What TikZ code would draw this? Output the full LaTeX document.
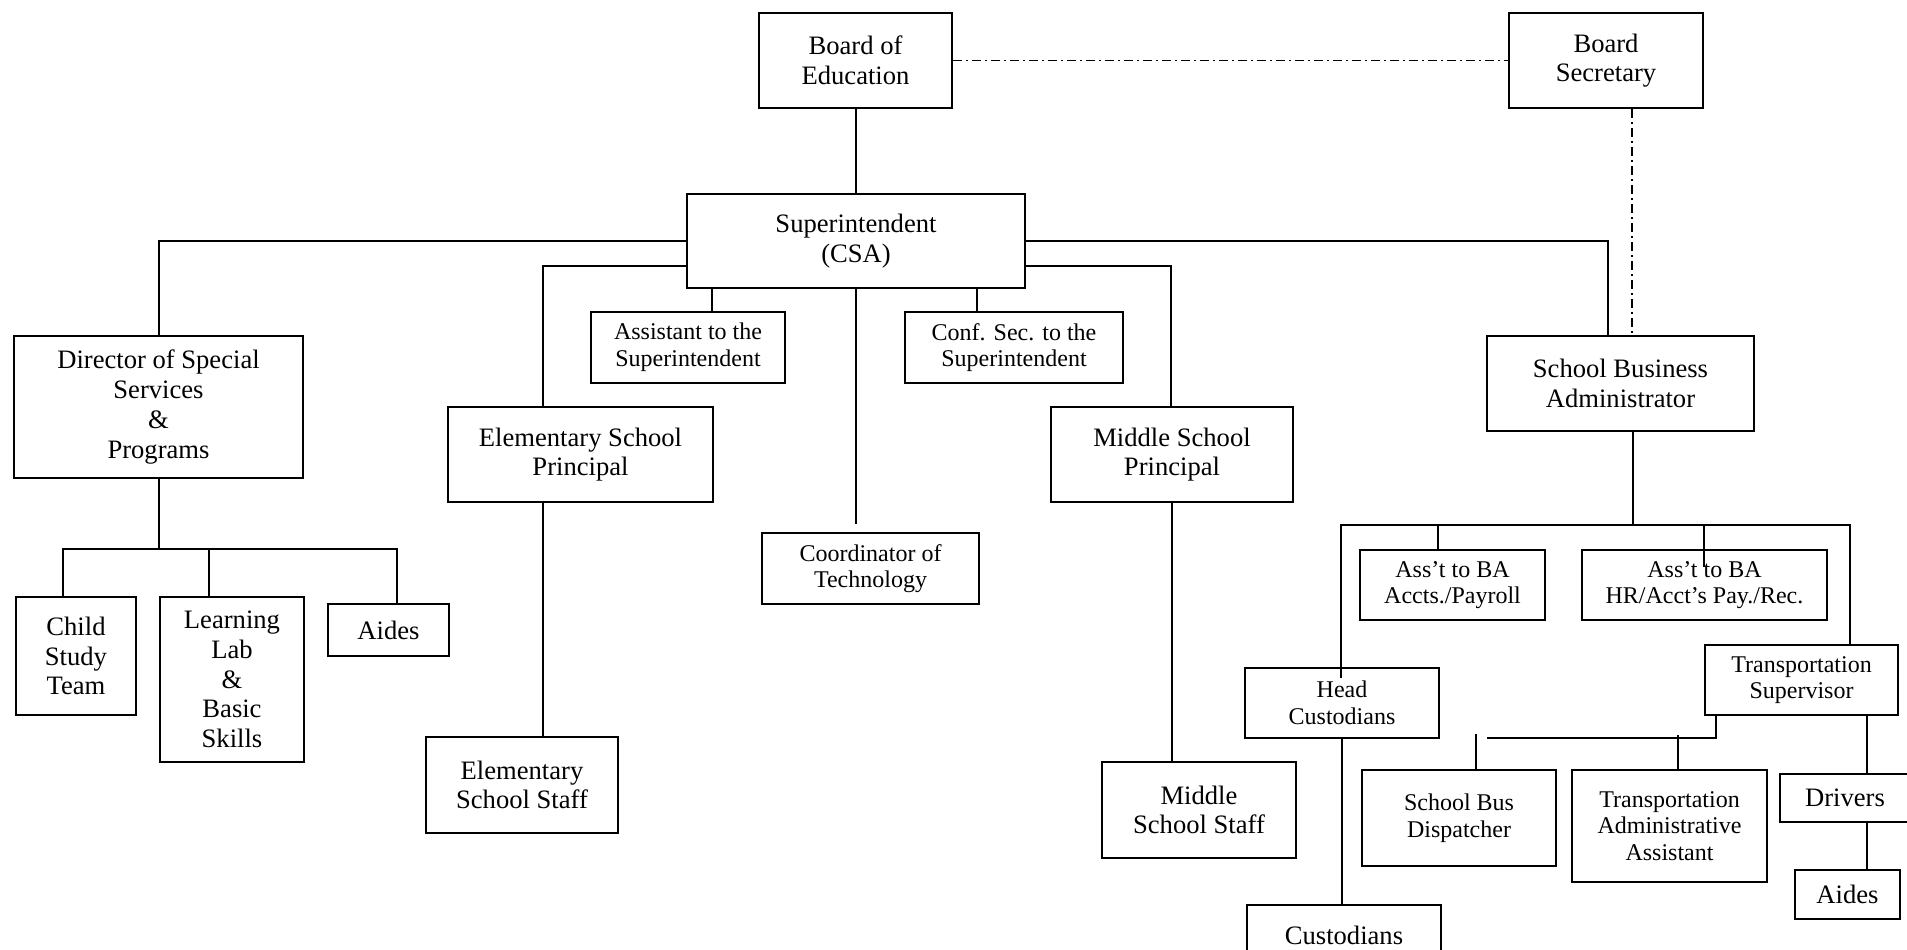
\documentclass[tikz,border=0pt]{standalone}
\usepackage{fontspec}
\setmainfont{Liberation Serif}
\tikzset{
  box/.style={draw, align=center, inner sep=0pt,
              font=\fontsize{26.6}{29.7}\selectfont},
  sbox/.style={box, font=\fontsize{24}{26.7}\selectfont},
  dashdot/.style={line width=1.6pt, dash pattern=on 9pt off 4pt on 2pt off 4pt}
}
\begin{document}
\begin{tikzpicture}[x=1pt, y=-1pt, line width=2pt]
\useasboundingbox (0,0) rectangle (1907,950);
% top of the chart
\node[box, minimum width=193, minimum height=95] (board) at (855.5,60.5) {Board of\\Education};
\node[box, minimum width=194, minimum height=95] (secretary) at (1606,60.5) {Board\\Secretary};
\node[box, minimum width=338, minimum height=94] (super) at (856,241) {Superintendent\\(CSA)};
\node[box, minimum width=289, minimum height=142] (director) at (158.5,407) {Director of Special\\Services\\\&\\Programs};
\node[sbox, minimum width=194, minimum height=71] (assist) at (688,347.5) {Assistant to the\\Superintendent};
\node[sbox, minimum width=218, minimum height=71] (confsec) at (1014,347.5) {Conf. Sec. to the\\Superintendent};
\node[box, minimum width=265, minimum height=95] (elemprin) at (580.5,454.5) {Elementary School\\Principal};
\node[sbox, minimum width=217, minimum height=71] (coord) at (870.5,568.5) {Coordinator of\\Technology};
\node[box, minimum width=242, minimum height=95] (midprin) at (1172,454.5) {Middle School\\Principal};
\node[box, minimum width=267, minimum height=95] (sba) at (1620.5,383.5) {School Business\\Administrator};
% staff
\node[box, minimum width=120, minimum height=118] (cst) at (76,656) {Child\\Study\\Team};
\node[box, minimum width=144, minimum height=165] (lab) at (232,679.5) {Learning\\Lab\\\&\\Basic\\Skills};
\node[box, minimum width=121, minimum height=52] (aides) at (388.5,630) {Aides};
\node[box, minimum width=192, minimum height=96] (elemstaff) at (522,785) {Elementary\\School Staff};
\node[box, minimum width=194, minimum height=96] (midstaff) at (1199,810) {Middle\\School Staff};
\node[sbox, minimum width=185, minimum height=70] (accts) at (1452.5,585) {Ass’t to BA\\Accts./Payroll};
\node[sbox, minimum width=245, minimum height=70] (hr) at (1704.5,585) {Ass’t to BA\\HR/Acct’s Pay./Rec.};
\node[sbox, minimum width=194, minimum height=70] (headcust) at (1342,703) {Head\\Custodians};
\node[sbox, minimum width=193, minimum height=70] (transsup) at (1801.5,680) {Transportation\\Supervisor};
\node[sbox, minimum width=194, minimum height=96] (dispatch) at (1459,818) {School Bus\\Dispatcher};
\node[sbox, minimum width=195, minimum height=112] (taa) at (1669.5,826) {Transportation\\Administrative\\Assistant};
\node[box, minimum width=130, minimum height=48] (drivers) at (1845,798) {Drivers};
\node[box, minimum width=105, minimum height=49] (aidestwo) at (1847.5,894.5) {Aides};
\node[box, minimum width=194, minimum height=60] (cust) at (1344,935) {Custodians};

% board secretary
\coordinate (xsec) at (1632,0);
\draw[dashdot] (board.east) -- (secretary.west);
\draw[dashdot] (secretary.south -| xsec) -- (sba.north -| xsec);

% superintendent
\coordinate (xel) at (543,266);
\coordinate (xmid) at (1171,266);
\coordinate (xbiz) at (1608,0);
\coordinate (xas) at (712,0);
\coordinate (xcs) at (977,0);
\draw (board.south) -- (board.south |- super.north);
\draw (super.west) -| (director.north);
\draw (super.east) -| (sba.north -| xbiz);
\draw (super.west |- xel) -| (elemprin.north -| xel);
\draw (super.east |- xmid) -| (midprin.north -| xmid);
\draw (super.south -| xas) -- (assist.north -| xas);
\draw (super.south -| xcs) -- (confsec.north -| xcs);
\draw[shorten >=8pt] (super.south) -- (super.south |- coord.north);
\draw (elemprin.south -| xel) -- (elemstaff.north -| xel);
\draw (midprin.south) -- (midprin.south |- midstaff.north);

% special services
\coordinate (dbus) at (158.5,549);
\coordinate (xcst) at (63,0);
\coordinate (xlab) at (209,0);
\coordinate (xaid) at (397,0);
\draw (director.south) -- (dbus);
\draw (cst.north -| xcst) |- (dbus) -| (aides.north -| xaid);
\draw (dbus -| xlab) -- (lab.north -| xlab);

% business office
\coordinate (bbus) at (1633,525);
\coordinate (hcin) at (1341,678);
\coordinate (hrin) at (1704,567);
\coordinate (xac) at (1438,0);
\coordinate (xts) at (1850,0);
\draw (sba.south -| bbus) -- (bbus);
\draw (hcin) |- (bbus) -| (transsup.north -| xts);
\draw (bbus -| xac) -- (accts.north -| xac);
\draw (bbus -| hrin) -- (hrin);
\draw (headcust.south) -- (headcust.south |- cust.north);

% transportation
\coordinate (tbus) at (1487,738);
\coordinate (xtl) at (1716,0);
\coordinate (dtop) at (1476,734);
\coordinate (ttop) at (1678,735);
\coordinate (xdr) at (1867,0);
\draw (transsup.south -| xtl) |- (tbus);
\draw (dtop) -- (dispatch.north -| dtop);
\draw (ttop) -- (taa.north -| ttop);
\draw (transsup.south -| xdr) -- (drivers.north -| xdr);
\draw (drivers.south -| xdr) -- (aidestwo.north -| xdr);
\end{tikzpicture}
\end{document}
